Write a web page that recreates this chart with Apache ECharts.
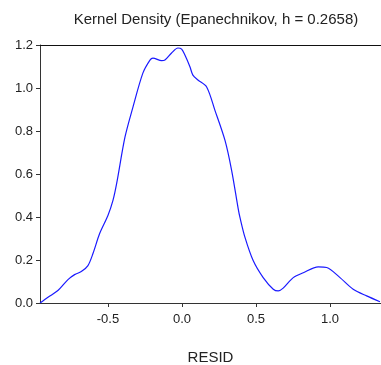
<!DOCTYPE html>
<html>
<head>
<meta charset="utf-8">
<script src="https://cdn.jsdelivr.net/npm/echarts@6/dist/echarts.min.js"></script>
<style>html,body{margin:0;padding:0;background:#fff}#c{width:381px;height:365px}</style>
</head>
<body>
<div id="c"></div>
<script>
const titleText = "Kernel Density (Epanechnikov, h = 0.2658)";
const xName = "RESID";
const xTicks = [-0.5, 0.0, 0.5, 1.0];
const yTicks = [0.0, 0.2, 0.4, 0.6, 0.8, 1.0, 1.2];
const residX = [-0.959,-0.905,-0.838,-0.770,-0.725,-0.680,-0.635,-0.601,-0.556,-0.500,-0.466,-0.441,-0.385,-0.331,-0.264,-0.216,-0.196,-0.137,-0.115,-0.070,-0.027,-0.002,0.020,0.054,0.074,0.108,0.167,0.223,0.291,0.336,0.380,0.392,0.426,0.482,0.549,0.617,0.651,0.684,0.752,0.820,0.921,0.978,1.068,1.157,1.248,1.338];
const density = [0.000,0.027,0.058,0.109,0.132,0.146,0.174,0.230,0.323,0.407,0.477,0.556,0.771,0.911,1.069,1.130,1.139,1.127,1.130,1.163,1.186,1.181,1.153,1.099,1.060,1.037,1.005,0.896,0.756,0.616,0.439,0.398,0.305,0.196,0.118,0.064,0.056,0.069,0.118,0.141,0.168,0.165,0.118,0.064,0.033,0.006];

const chart = echarts.init(document.getElementById('c'), null, {renderer:'canvas'});
const font = '"Liberation Sans", Arial, sans-serif';
chart.setOption({
  animation: false,
  backgroundColor: '#fff',
  title: {
    text: titleText, left: 211, top: 7, textAlign: 'center',
    textStyle: {fontSize: 15, fontWeight: 'normal', color: '#222', fontFamily: font}
  },
  grid: {left: 40, right: 0, top: 45, bottom: 62, containLabel: false, outerBoundsMode: 'none'},
  xAxis: [{
    type: 'value', min: -0.959, max: 1.345,
    name: xName, nameLocation: 'middle', nameGap: 47,
    nameTextStyle: {fontSize: 15, color: '#222', fontFamily: font},
    axisLine: {show: true, onZero: false, lineStyle: {color: '#333', width: 1}},
    axisTick: {show: true, length: 4, customValues: xTicks, lineStyle: {color: '#333'}},
    axisLabel: {customValues: xTicks, fontSize: 13, color: '#222', fontFamily: font, margin: 10,
      formatter: v => v.toFixed(1)},
    splitLine: {show: false}
  }, {
    type: 'value', position: 'top', min: -0.959, max: 1.345,
    axisLine: {show: true, onZero: false, lineStyle: {color: '#111', width: 1}},
    axisTick: {show: false}, axisLabel: {show: false}, splitLine: {show: false}
  }],
  yAxis: {
    type: 'value', min: 0, max: 1.2, interval: 0.2,
    axisLine: {show: true, onZero: false, lineStyle: {color: '#333', width: 1}},
    axisTick: {show: true, length: 4, lineStyle: {color: '#333'}},
    axisLabel: {fontSize: 13, color: '#222', fontFamily: font, margin: 7,
      formatter: v => v.toFixed(1)},
    splitLine: {show: false}
  },
  series: [{
    type: 'line', xAxisIndex: 0,
    data: residX.map((x, i) => [x, density[i]]),
    smooth: 0.3, showSymbol: false, symbol: 'none',
    lineStyle: {color: '#1a1aff', width: 1.2}
  }]
});
</script>
</body>
</html>
